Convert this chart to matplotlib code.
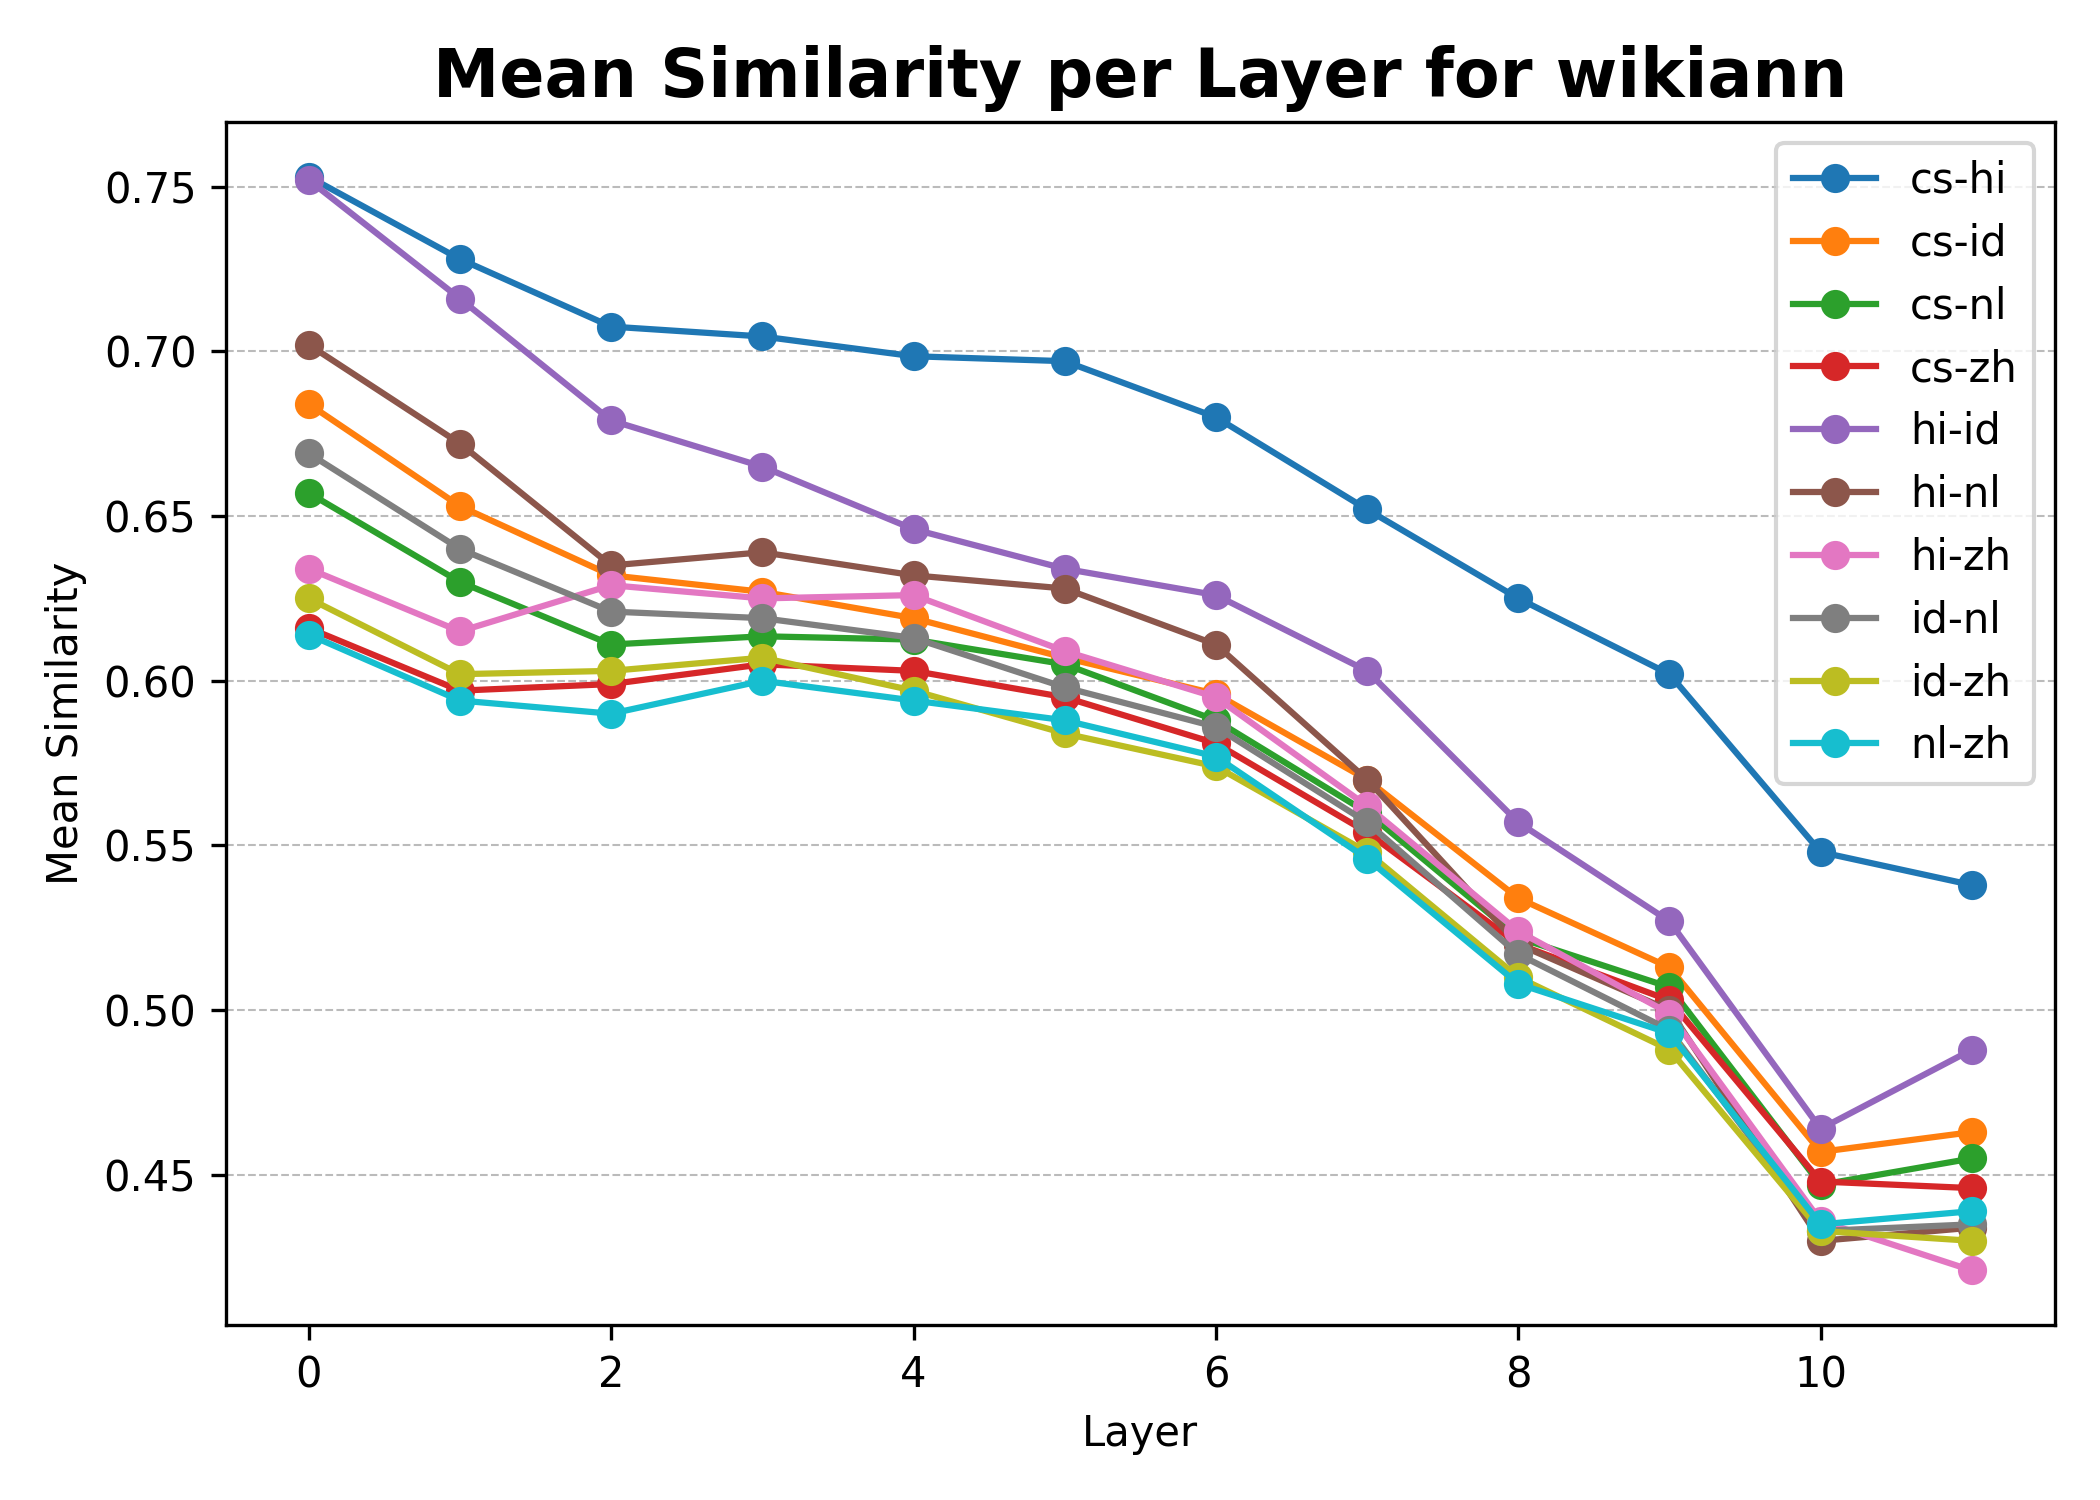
import matplotlib.pyplot as plt

layers = list(range(12))
pairs = ['cs-hi', 'cs-id', 'cs-nl', 'cs-zh', 'hi-id', 'hi-nl', 'hi-zh', 'id-nl', 'id-zh', 'nl-zh']

cs_hi = [0.753, 0.728, 0.7075, 0.7045, 0.6985, 0.697, 0.680, 0.652, 0.625, 0.602, 0.548, 0.538]
cs_id = [0.684, 0.653, 0.632, 0.627, 0.619, 0.607, 0.596, 0.570, 0.534, 0.513, 0.457, 0.463]
cs_nl = [0.657, 0.630, 0.611, 0.6135, 0.6125, 0.605, 0.588, 0.560, 0.522, 0.507, 0.447, 0.455]
cs_zh = [0.616, 0.597, 0.599, 0.605, 0.603, 0.595, 0.581, 0.554, 0.520, 0.503, 0.448, 0.446]
hi_id = [0.752, 0.716, 0.679, 0.665, 0.646, 0.634, 0.626, 0.603, 0.557, 0.527, 0.464, 0.488]
hi_nl = [0.702, 0.672, 0.635, 0.639, 0.632, 0.628, 0.611, 0.570, 0.520, 0.500, 0.430, 0.434]
hi_zh = [0.634, 0.615, 0.629, 0.625, 0.626, 0.609, 0.595, 0.562, 0.524, 0.499, 0.436, 0.421]
id_nl = [0.669, 0.640, 0.621, 0.619, 0.613, 0.598, 0.586, 0.557, 0.517, 0.494, 0.433, 0.435]
id_zh = [0.625, 0.602, 0.603, 0.607, 0.597, 0.584, 0.574, 0.548, 0.510, 0.488, 0.433, 0.430]
nl_zh = [0.614, 0.594, 0.590, 0.600, 0.594, 0.588, 0.577, 0.546, 0.508, 0.493, 0.435, 0.439]

series = [cs_hi, cs_id, cs_nl, cs_zh, hi_id, hi_nl, hi_zh, id_nl, id_zh, nl_zh]

fig, ax = plt.subplots(figsize=(7, 5), dpi=300)
for name, vals in zip(pairs, series):
    ax.plot(layers, vals, marker='o', label=name)

ax.set_title('Mean Similarity per Layer for wikiann', fontsize=16, fontweight='bold')
ax.set_xlabel('Layer')
ax.set_ylabel('Mean Similarity')
ax.grid(axis='y', linestyle='--', linewidth=0.5, color='#bbbbbb')
ax.legend(loc='upper right')
fig.tight_layout()
fig.savefig('out.png')
